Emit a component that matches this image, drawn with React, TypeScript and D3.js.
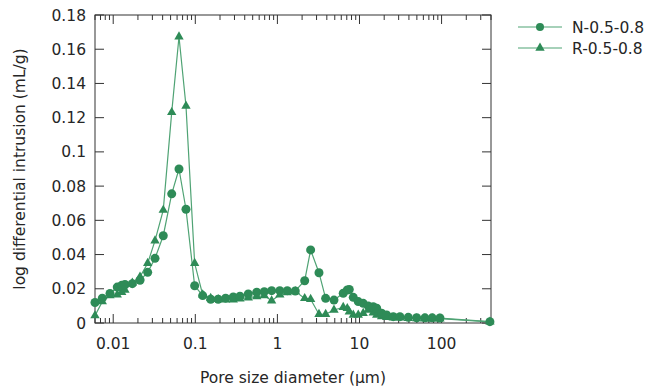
import React from "react";
import * as d3 from "d3";

const diameters = [
  0.006, 0.00736, 0.00914, 0.0112, 0.0127, 0.0139, 0.0171, 0.0212, 0.0263, 0.0323,
  0.0407, 0.0516, 0.0633, 0.077, 0.0982, 0.123, 0.154, 0.19, 0.234, 0.29,
  0.35, 0.442, 0.56, 0.692, 0.851, 1.07, 1.32, 1.65, 2.15, 2.54,
  3.21, 3.87, 4.89, 6.34, 7.1, 7.51, 8.4, 9.66, 11.1, 12.8,
  14.7, 16.2, 18.6, 21.4, 25.8, 31.1, 39.3, 49.7, 62.7, 76.9,
  95.5, 388,
];

const nValues = [
  0.012, 0.0145, 0.0173, 0.021, 0.022, 0.0225, 0.023, 0.025, 0.0296, 0.0378,
  0.051, 0.0755, 0.09, 0.0665, 0.0218, 0.016, 0.0139, 0.0139, 0.0145, 0.0152,
  0.0156, 0.017, 0.018, 0.0183, 0.0189, 0.0189, 0.0189, 0.0187, 0.0247, 0.0427,
  0.0294, 0.0144, 0.0134, 0.0174, 0.0193, 0.0196, 0.015, 0.0125, 0.0115, 0.0099,
  0.0095, 0.0086, 0.0057, 0.0047, 0.0037, 0.0037, 0.0033, 0.0031, 0.003, 0.003,
  0.0029, 0.0008,
];

const rValues = [
  0.0043, 0.0125, 0.016, 0.0165, 0.018, 0.0193, 0.0235, 0.027, 0.0349, 0.0481,
  0.066, 0.1231, 0.1673, 0.1268, 0.0349, 0.0165, 0.0145, 0.0138, 0.0135, 0.0135,
  0.0142, 0.0148, 0.0155, 0.016, 0.013, 0.0165, 0.0178, 0.0185, 0.0144, 0.0139,
  0.0051, 0.0051, 0.0076, 0.0092, 0.0086, 0.0066, 0.0047, 0.0047, 0.0057, 0.0076,
  0.006, 0.0047, 0.0037, 0.0033, 0.003, 0.003, 0.0027, 0.0026, 0.0025, 0.0025,
  0.0025, 0.0007,
];

const seriesNames = ["N-0.5-0.8", "R-0.5-0.8"];
const xTickValues = [0.01, 0.1, 1, 10, 100];
const xTickLabels = ["0.01", "0.1", "1", "10", "100"];
const yTickValues = [0, 0.02, 0.04, 0.06, 0.08, 0.1, 0.12, 0.14, 0.16, 0.18];
const yTickLabels = ["0", "0.02", "0.04", "0.06", "0.08", "0.1", "0.12", "0.14", "0.16", "0.18"];
const xTitle = "Pore size diameter (\u03bcm)";
const yTitle = "log differential intrusion (mL/g)";

const W = 648;
const H = 392;
const left = 95;
const right = 491;
const top = 15;
const bottom = 323;

const FONT = "'DejaVu Sans', Verdana, sans-serif";
const FS = 15.5;
const MARK = "#2e8b57";
const LINE = "#4fa374";
const AXIS = "#333333";
const TEXT = "#262626";

export default function App() {
  const x = d3.scaleLog().domain([0.006, 400]).range([left, right]);
  const y = d3.scaleLinear().domain([0, 0.18]).range([bottom, top]);

  const nData = diameters.map((d, i) => [d, nValues[i]] as [number, number]);
  const rData = diameters.map((d, i) => [d, rValues[i]] as [number, number]);

  const line = d3
    .line<[number, number]>()
    .x((d) => x(d[0]))
    .y((d) => y(d[1]));

  const tri = d3.symbol().type(d3.symbolTriangle).size(38)();

  const minor: number[] = [];
  for (let e = -3; e <= 2; e++) {
    for (let m = 2; m <= 9; m++) {
      const v = m * Math.pow(10, e);
      if (v >= 0.006 && v <= 400) minor.push(v);
    }
  }

  return (
    <svg
      width={W}
      height={H}
      style={{ position: "absolute", left: 0, top: 0, background: "#fff" }}
      fontFamily={FONT}
    >
      <rect x={0} y={0} width={W} height={H} fill="#fff" />
      <rect x={left} y={top} width={right - left} height={bottom - top} fill="none" stroke={AXIS} strokeWidth={1} />
      {xTickValues.map((v, i) => (
        <g key={"xt" + i}>
          <line x1={x(v)} x2={x(v)} y1={bottom} y2={bottom - 9} stroke={AXIS} />
          <line x1={x(v)} x2={x(v)} y1={top} y2={top + 9} stroke={AXIS} />
          <text x={x(v)} y={349} textAnchor="middle" fontSize={FS} fill={TEXT}>
            {xTickLabels[i]}
          </text>
        </g>
      ))}
      {minor.map((v, i) => (
        <g key={"xm" + i}>
          <line x1={x(v)} x2={x(v)} y1={bottom} y2={bottom - 5} stroke={AXIS} />
          <line x1={x(v)} x2={x(v)} y1={top} y2={top + 5} stroke={AXIS} />
        </g>
      ))}
      {yTickValues.map((v, i) => (
        <g key={"yt" + i}>
          <line x1={left} x2={left + 9} y1={y(v)} y2={y(v)} stroke={AXIS} />
          <line x1={right} x2={right - 9} y1={y(v)} y2={y(v)} stroke={AXIS} />
          <text x={86} y={y(v) + 5.5} textAnchor="end" fontSize={FS} fill={TEXT}>
            {yTickLabels[i]}
          </text>
        </g>
      ))}
      <text x={293} y={383} textAnchor="middle" fontSize={FS} fill={TEXT}>
        {xTitle}
      </text>
      <text
        transform={`translate(25,${(top + bottom) / 2}) rotate(-90)`}
        textAnchor="middle"
        fontSize={FS}
        fill={TEXT}
      >
        {yTitle}
      </text>
      <path d={line(rData) || ""} fill="none" stroke={LINE} strokeWidth={1.2} />
      <path d={line(nData) || ""} fill="none" stroke={LINE} strokeWidth={1.2} />
      {rData.map((d, i) => (
        <path key={"r" + i} d={tri} transform={`translate(${x(d[0])},${y(d[1])})`} fill={MARK} />
      ))}
      {nData.map((d, i) => (
        <circle key={"n" + i} cx={x(d[0])} cy={y(d[1])} r={4.5} fill={MARK} />
      ))}
      <g>
        <line x1={518} x2={562} y1={27} y2={27} stroke={LINE} strokeWidth={1.2} />
        <circle cx={540} cy={27} r={4} fill={MARK} />
        <text x={572} y={32.5} fontSize={FS} fill={TEXT}>
          {seriesNames[0]}
        </text>
        <line x1={518} x2={562} y1={48} y2={48} stroke={LINE} strokeWidth={1.2} />
        <path d={tri} transform="translate(540,48)" fill={MARK} />
        <text x={572} y={53.5} fontSize={FS} fill={TEXT}>
          {seriesNames[1]}
        </text>
      </g>
    </svg>
  );
}
